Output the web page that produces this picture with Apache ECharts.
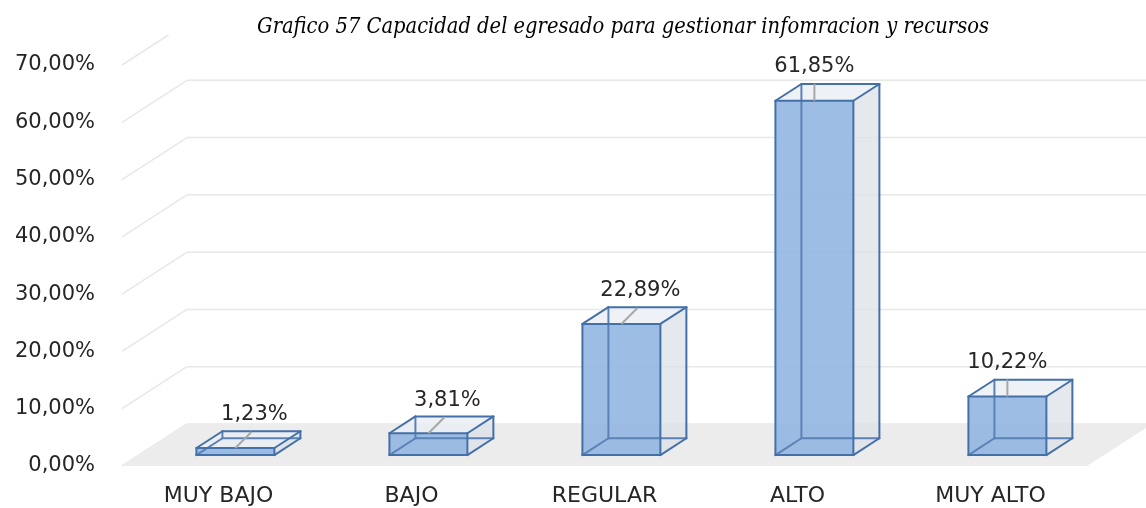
<!DOCTYPE html>
<html>
<head>
<meta charset="utf-8">
<script src="https://cdn.jsdelivr.net/npm/echarts@6/dist/echarts.min.js"></script>
<style>
  html, body { margin: 0; padding: 0; background: #ffffff; }
  #chart { width: 1146px; height: 508px; }
</style>
</head>
<body>
<div id="chart"></div>
<script>
// Chart content
const titleText = 'Grafico 57 Capacidad del egresado para gestionar infomracion y recursos';
const categories = ['MUY BAJO', 'BAJO', 'REGULAR', 'ALTO', 'MUY ALTO'];
const percentages = [1.23, 3.81, 22.89, 61.85, 10.22];
const yTicks = [0, 10, 20, 30, 40, 50, 60, 70];

// How each value label's leader line runs: along the top face, or straight up
const leaderKind = ['diag', 'diag', 'diag', 'up', 'up'];

// Pseudo-3D projection: depth z in [0,1] shifts a point right and up
const DEPTH_DX = 65;
const DEPTH_DY = -42;
const BAR_FRONT_Z = 0.26;
const BAR_BACK_Z = 0.66;
const BAR_RATIO = 0.404;
const CLIP_TOP = 35;

const EDGE = '#4470a8';
const HIDDEN_EDGE = '#5a82b6';
const FRONT_FILL = 'rgba(145,180,224,0.88)';
const SIDE_FILL = 'rgba(220,224,231,0.75)';
const TOP_FILL = 'rgba(234,237,242,0.8)';
const FLOOR_FILL = '#ececec';
const GRID_LINE = '#e8e8e8';
const LEADER = '#a8a8a8';
const TEXT = '#262626';

const fmt = v => v.toFixed(2).replace('.', ',') + '%';

function seg(a, b, style) {
  return { type: 'line', shape: { x1: a[0], y1: a[1], x2: b[0], y2: b[1] }, style: style, silent: true };
}

// Side wall and back wall gridlines for each value tick
function renderGridline(params, api) {
  const v = api.value(0);
  const band = api.size([1, 0])[0];
  const c0 = api.coord([0, v]);
  const cN = api.coord([categories.length - 1, v]);
  const left = c0[0] - band / 2;
  const right = cN[0] + band / 2;
  const y = c0[1];
  const style = { stroke: GRID_LINE, lineWidth: 1.5 };
  const children = [];
  const a = [left, y];
  let b = [left + DEPTH_DX, y + DEPTH_DY];
  if (b[1] < CLIP_TOP) {
    const t = (y - CLIP_TOP) / -DEPTH_DY;
    b = [left + t * DEPTH_DX, CLIP_TOP];
    children.push(seg(a, b, style));
  } else {
    children.push(seg(a, b, style));
    children.push(seg(b, [right + DEPTH_DX, b[1]], style));
  }
  return { type: 'group', children: children };
}

// Floor plane at value 0
function renderFloor(params, api) {
  const band = api.size([1, 0])[0];
  const c0 = api.coord([0, 0]);
  const cN = api.coord([categories.length - 1, 0]);
  const left = c0[0] - band / 2;
  const right = cN[0] + band / 2;
  const y = c0[1];
  return {
    type: 'polygon',
    shape: { points: [[left, y], [right, y], [right + DEPTH_DX, y + DEPTH_DY], [left + DEPTH_DX, y + DEPTH_DY]] },
    style: { fill: FLOOR_FILL },
    silent: true
  };
}

// One translucent box per category, with its value label
function renderBar(params, api) {
  const i = api.value(0);
  const v = api.value(1);
  const base = api.coord([i, 0]);
  const top = api.coord([i, v]);
  const band = api.size([1, 0])[0];
  const w = band * BAR_RATIO;
  const h = base[1] - top[1];
  const P = (xOff, z, up) => [base[0] + xOff + z * DEPTH_DX, base[1] - up + z * DEPTH_DY];
  const l = -w / 2, r = w / 2;
  const fLB = P(l, BAR_FRONT_Z, 0), fRB = P(r, BAR_FRONT_Z, 0);
  const fLT = P(l, BAR_FRONT_Z, h), fRT = P(r, BAR_FRONT_Z, h);
  const bLB = P(l, BAR_BACK_Z, 0), bRB = P(r, BAR_BACK_Z, 0);
  const bLT = P(l, BAR_BACK_Z, h), bRT = P(r, BAR_BACK_Z, h);

  const edge = { stroke: EDGE, lineWidth: 2, lineCap: 'round' };
  const hidden = { stroke: HIDDEN_EDGE, lineWidth: 2, lineCap: 'round' };
  const children = [
    { type: 'polygon', shape: { points: [fRB, bRB, bRT, fRT] }, style: { fill: SIDE_FILL }, silent: true },
    { type: 'polygon', shape: { points: [fLT, fRT, bRT, bLT] }, style: { fill: TOP_FILL }, silent: true },
    { type: 'polygon', shape: { points: [fLB, fRB, fRT, fLT] }, style: { fill: FRONT_FILL }, silent: true },
    seg(bLB, bRB, hidden), seg(bLB, bLT, hidden), seg(fLB, bLB, hidden),
    seg(fLB, fRB, edge), seg(fRB, fRT, edge), seg(fRT, fLT, edge), seg(fLT, fLB, edge),
    seg(fRB, bRB, edge), seg(bRB, bRT, edge), seg(bRT, bLT, edge),
    seg(fRT, bRT, edge), seg(fLT, bLT, edge)
  ];

  // Leader line and value label
  const fc = [base[0] + BAR_FRONT_Z * DEPTH_DX, fLT[1]];
  let leadEnd, labelPos;
  if (leaderKind[i] === 'diag') {
    leadEnd = [fc[0] + 16, fc[1] - 16];
    labelPos = [fc[0] + 19, fc[1] - 33];
  } else {
    leadEnd = [fc[0], fc[1] - 17];
    labelPos = [fc[0], fc[1] - 34];
  }
  children.push(seg(fc, leadEnd, { stroke: LEADER, lineWidth: 2 }));
  children.push({
    type: 'text',
    x: labelPos[0], y: labelPos[1],
    style: {
      text: fmt(v), fill: TEXT, font: '21px "DejaVu Sans"',
      textAlign: 'center', textVerticalAlign: 'middle'
    },
    silent: true
  });
  return { type: 'group', children: children };
}

const chart = echarts.init(document.getElementById('chart'), null, { renderer: 'canvas' });
chart.setOption({
  animation: false,
  backgroundColor: '#ffffff',
  graphic: [{
    type: 'text', x: 623, y: 27,
    style: {
      text: titleText, fill: '#000000',
      font: 'italic 21.7px "DejaVu Serif Condensed", "DejaVu Serif"',
      textAlign: 'center', textVerticalAlign: 'middle'
    }
  }],
  grid: { left: 122, right: 59, top: 65, bottom: 42, containLabel: false },
  xAxis: {
    type: 'category',
    data: categories,
    axisLine: { show: false },
    axisTick: { show: false },
    axisLabel: { margin: 19, color: TEXT, fontFamily: 'DejaVu Sans', fontSize: 22 },
    splitLine: { show: false }
  },
  yAxis: {
    type: 'value',
    min: 0, max: 70, interval: 10,
    axisLine: { show: false },
    axisTick: { show: false },
    splitLine: { show: false },
    axisLabel: { margin: 27, color: TEXT, fontFamily: 'DejaVu Sans', fontSize: 21, formatter: fmt }
  },
  series: [
    { type: 'custom', name: 'gridlines', renderItem: renderGridline, data: yTicks.map(t => [t]), encode: { y: 0 }, clip: false, z: 1 },
    { type: 'custom', name: 'floor', renderItem: renderFloor, data: [[0]], clip: false, z: 2 },
    { type: 'custom', name: 'values', renderItem: renderBar, data: percentages.map((p, i) => [i, p]), encode: { x: 0, y: 1 }, clip: false, z: 3 }
  ]
});
</script>
</body>
</html>
